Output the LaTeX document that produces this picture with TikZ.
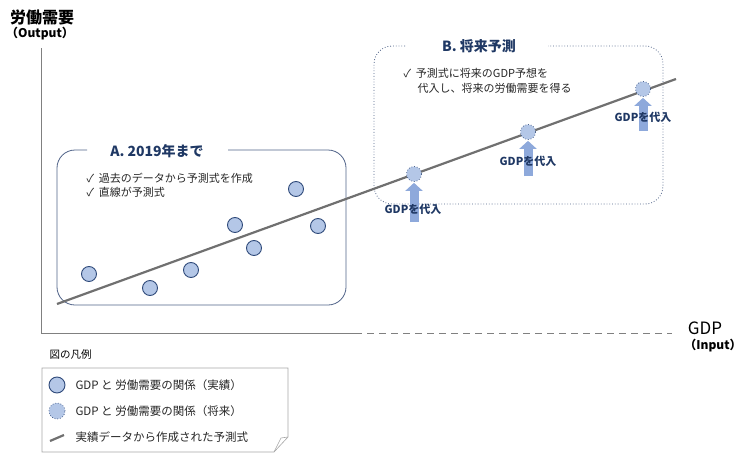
\documentclass[tikz,border=0pt]{standalone}
\usepackage{fontspec}
\setmainfont{Noto Sans CJK JP}
\usetikzlibrary{arrows.meta}
\definecolor{navy}{HTML}{1F3864}
\definecolor{dotfill}{HTML}{B4C7E7}
\definecolor{dotedge}{HTML}{2F4A7A}
\definecolor{boxedge}{HTML}{4F6288}
\definecolor{arr}{HTML}{8EA9DB}
\definecolor{lin}{HTML}{707070}
\tikzset{x=1pt,y=-1pt,
 actual/.style={circle,draw=dotedge,fill=dotfill,line width=0.9pt,minimum size=15pt,inner sep=0pt},
 future/.style={circle,draw=dotedge,fill=dotfill,dotted,line width=0.7pt,minimum size=15pt,inner sep=0pt},
 ttl/.style={font=\bfseries\fontsize{14}{16}\selectfont,text=navy},
 txt/.style={font=\fontsize{11}{13}\selectfont,anchor=west,text=black!85},
 ltxt/.style={font=\fontsize{11.5}{13}\selectfont,anchor=west,text=black!85},
 gdpl/.style={font=\bfseries\fontsize{11}{13}\selectfont,text=navy},
 fat/.style={-{Triangle[width=17pt,length=8pt]},line width=9pt,draw=arr},
 regline/.style={line width=2.2pt,draw=lin}}
\begin{document}
\begin{tikzpicture}
\useasboundingbox (0,0) rectangle (750,463);
% axes
\node[font=\bfseries\fontsize{16}{18}\selectfont] (ylab) at (42,17) {労働需要};
\node[font=\bfseries\fontsize{12}{14}\selectfont] (yout) at (40,34) {（Output）};
\coordinate (o) at (41,333);
\coordinate (ytop) at (41,48);
\coordinate (xs) at (355,333);
\coordinate (xe) at (672,333);
\draw[gray,line width=0.8pt] (ytop) -- (o) -- (xs);
\draw[gray,line width=0.8pt,dash pattern=on 7pt off 5pt] (xs) -- (xe);
\node[font=\fontsize{17}{19}\selectfont] (gdp) at (705,328) {GDP};
\node[font=\bfseries\fontsize{12}{14}\selectfont] (inp) at (713,346) {（Input）};
% box A
\draw[boxedge,line width=0.8pt,rounded corners=18pt] (87,150) -- (57,150) -- (57,305) -- (346,305) -- (346,150) -- (228,150);
\node[ttl] (ta) at (157,151) {A. 2019年まで};
\node[txt] (a1) at (83,178) {✓ \ 過去のデータから予測式を作成};
\node[txt] (a2) at (83,192) {✓ \ 直線が予測式};
% box B
\draw[boxedge,line width=0.8pt,dotted,rounded corners=18pt] (405,46) -- (374,46) -- (374,204) -- (663,204) -- (663,46) -- (548,46);
\node[ttl] (tb) at (479,46) {B. 将来予測};
\node[txt] (b1) at (400,73) {✓ \ 予測式に将来のGDP予想を};
\node[txt] (b2) at (414,88) {代入し、将来の労働需要を得る};
% regression line
\coordinate (l1) at (57,304);
\coordinate (l2) at (676,79);
\draw[regline] (l1) -- (l2);
% actual dots
\foreach \n/\x/\y in {d1/89/274,d2/150/288,d3/191/270,d4/235/225,d5/254/248,d6/296/189,d7/318/226}
  \node[actual] (\n) at (\x,\y) {};
% future dots and arrows
\foreach \n/\x/\y/\b in {f1/414/174/222,f2/528/132/176,f3/643/89/131}{
  \node[future] (\n) at (\x,\y) {};
  \coordinate (\n b) at (\x,\b);
  \draw[fat] (\n b) -- ([yshift=-1pt]\n.south);
}
\node[gdpl] (g1) at (413,209) {GDPを代入};
\node[gdpl] (g2) at (528,161) {GDPを代入};
\node[gdpl] (g3) at (643,117) {GDPを代入};
% legend
\node[font=\fontsize{10.5}{12}\selectfont,anchor=west] (lt) at (46,355) {図の凡例};
\draw[gray!70,line width=0.6pt] (42,368) -- (288,368) -- (288,437) -- (274,452) -- (42,452) -- cycle;
\draw[gray!70,line width=0.6pt] (288,437) -- (281,438) -- (274,452);
\node[actual,minimum size=16pt] (le1) at (57,385) {};
\node[ltxt] (lx1) at (72,385) {GDP と 労働需要の関係（実績）};
\node[future,minimum size=16pt] (le2) at (57,411) {};
\node[ltxt] (lx2) at (72,411) {GDP と 労働需要の関係（将来）};
\coordinate (ll1) at (50,441);
\coordinate (ll2) at (64,435);
\draw[regline] (ll1) -- (ll2);
\node[ltxt] (lx3) at (72,437) {実績データから作成された予測式};
\end{tikzpicture}
\end{document}
